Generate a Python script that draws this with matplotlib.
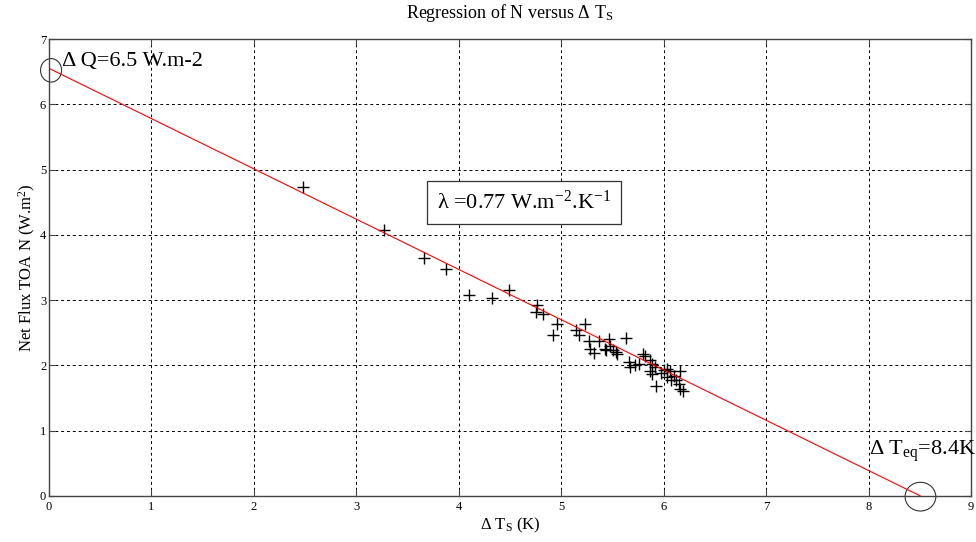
import numpy as np
import matplotlib
matplotlib.use('Agg')
import matplotlib.pyplot as plt
from matplotlib.patches import Ellipse

plt.rcParams['font.family'] = ['Liberation Serif', 'DejaVu Serif']
plt.rcParams['mathtext.fontset'] = 'custom'
plt.rcParams['mathtext.rm'] = 'Liberation Serif'
plt.rcParams['mathtext.it'] = 'Liberation Serif:italic'

# surface temperature change (K) and net TOA flux (W.m-2), one point per year
delta_ts = [2.48, 3.27, 3.66, 3.88, 4.10, 4.32, 4.49, 4.76, 4.75, 4.82,
            4.96, 4.92, 5.23, 5.14, 5.17, 5.27, 5.28, 5.32, 5.37, 5.44,
            5.47, 5.48, 5.53, 5.54, 5.63, 5.43, 5.51, 5.66, 5.67, 5.72,
            5.76, 5.80, 5.82, 5.87, 5.89, 5.92, 5.87, 5.89, 5.93, 5.97,
            6.00, 6.03, 6.06, 6.03, 6.07, 6.10, 6.12, 6.16, 6.15, 6.16,
            6.19]
net_flux = [4.73, 4.07, 3.65, 3.48, 3.08, 3.04, 3.15, 2.93, 2.82, 2.79,
            2.64, 2.47, 2.64, 2.55, 2.46, 2.38, 2.25, 2.19, 2.38, 2.23,
            2.41, 2.30, 2.20, 2.18, 2.42, 2.25, 2.23, 2.05, 1.97, 2.01,
            2.02, 2.17, 2.14, 2.08, 2.02, 1.97, 1.92, 1.87, 1.69, 1.88,
            1.93, 1.95, 1.92, 1.82, 1.78, 1.84, 1.78, 1.92, 1.72, 1.64,
            1.61]

# regression: N = dQ - lambda * dTs
forcing = 6.55
feedback = 0.77
t_eq = forcing / feedback

fig = plt.figure(figsize=(9.76, 5.42), dpi=100)
ax = fig.add_axes([49 / 976, 46 / 542, 922 / 976, 457 / 542])

ax.plot(delta_ts, net_flux, '+', color='black', markersize=8, mew=1.0)
xfit = np.array([0.0, t_eq])
ax.plot(xfit, forcing - feedback * xfit, color='red', lw=0.8)

# circles marking the intercepts
ax.add_patch(Ellipse((0.02, 6.52), 0.205, 0.36, fill=False, ec='#333333',
                     lw=0.8, clip_on=False))
ax.add_patch(Ellipse((t_eq, -0.01), 0.30, 0.44, fill=False, ec='#333333',
                     lw=0.8, clip_on=False))

ax.text(0.13, 6.66, 'Δ Q=6.5 W.m-2', fontsize=16, va='center', ha='left')
ax.text(8.0, 0.68, r'Δ T$_{\mathrm{eq}}$=8.4K', fontsize=16, va='center',
        ha='left')
ax.text(4.64, 4.50, r'λ =0.77 W.m$^{-2}$.K$^{-1}$', fontsize=16,
        va='center', ha='center',
        bbox=dict(boxstyle='square,pad=0.45', fc='white', ec='#333333',
                  lw=0.9))

ax.set_xlim(0, 9)
ax.set_ylim(0, 7)
ax.set_xticks(range(0, 10))
ax.set_yticks(range(0, 8))
ax.grid(True, color='black', linestyle=(0, (3, 3)), linewidth=0.7)
ax.tick_params(direction='in', length=4, labelsize=9, top=True, right=True,
               color='#444444')
ax.tick_params(axis='y', pad=2)
for s in ax.spines.values():
    s.set_color('#444444')
    s.set_linewidth(1.0)

ax.set_title(r'Regression of N versus Δ T$_{\mathrm{S}}$', fontsize=13,
             pad=15)
ax.set_xlabel(r'Δ T$_{\mathrm{S}}$ (K)', fontsize=12, labelpad=2)
ax.set_ylabel(r'Net Flux TOA N (W.m$^{2}$)', fontsize=12, labelpad=1)

fig.savefig('out.png', dpi=100)
